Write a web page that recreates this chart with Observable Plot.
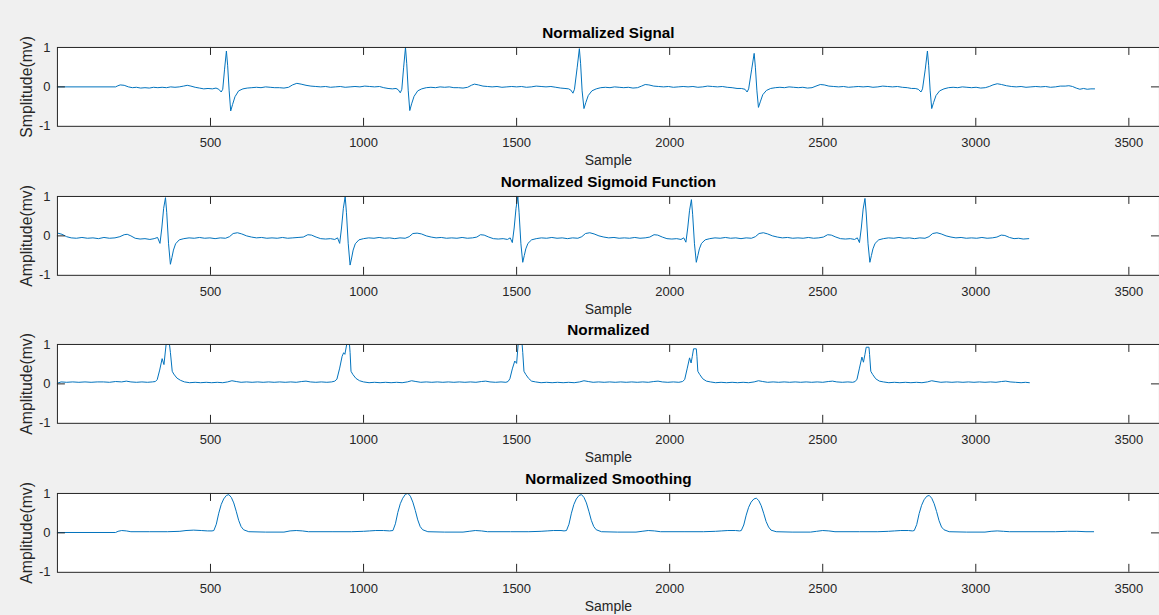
<!DOCTYPE html>
<html><head><meta charset="utf-8">
<script src="https://cdn.jsdelivr.net/npm/d3@7"></script>
<script src="https://cdn.jsdelivr.net/npm/@observablehq/plot@0.6"></script>
<style>
html,body{margin:0;padding:0;background:#f0f0f0;overflow:hidden;width:1159px;height:615px}
#chart{padding-top:25px}
#chart svg{display:block}
</style></head><body><div id="chart"></div>
<script>
const xTicks = [500, 1000, 1500, 2000, 2500, 3000, 3500];
const yTicks = [-1, 0, 1];
const panelTitles = ["Normalized Signal", "Normalized Sigmoid Function", "Normalized", "Normalized Smoothing"];
const yLabels = ["Smplitude(mv)", "Amplitude(mv)", "Amplitude(mv)", "Amplitude(mv)"];
const xLabel = "Sample";

// Panel 1: Normalized Signal  [sample, amplitude]
const signalPts = [[1,0],[190,0],[195,0.02],[205,0.05],[218,0.04],[232,0.0],[245,-0.02],[258,-0.01],[272,-0.03],[286,-0.02],[300,-0.03],[314,-0.01],[328,-0.02],[342,-0.01],[356,-0.02],[370,0.0],[384,-0.01],[398,0.0],[412,0.02],[424,0.04],[436,0.02],[450,-0.01],[464,-0.03],[478,-0.05],[492,-0.04],[506,-0.05],[518,-0.03],[527,-0.06],[535,-0.13],[540,-0.06],[546,0.45],[552,0.91],[556,0.55],[561,-0.1],[566,-0.61],[572,-0.45],[580,-0.25],[592,-0.1],[606,-0.05],[620,-0.03],[635,-0.02],[650,-0.01],[665,-0.02],[680,0.0],[695,-0.01],[710,-0.02],[725,-0.02],[740,-0.03],[755,-0.01],[768,0.05],[782,0.09],[796,0.07],[812,0.04],[828,0.02],[844,0.01],[860,0.0],[876,0.01],[892,-0.01],[908,0.0],[924,0.01],[940,-0.01],[956,0.0],[972,0.01],[988,0.0],[1004,0.02],[1020,0.01],[1036,0.0],[1052,0.01],[1066,-0.02],[1080,-0.04],[1094,-0.05],[1106,-0.04],[1113,-0.07],[1120,-0.15],[1125,-0.06],[1131,0.5],[1137,1.0],[1141,0.6],[1146,-0.1],[1151,-0.6],[1157,-0.43],[1165,-0.24],[1177,-0.1],[1190,-0.05],[1205,-0.02],[1220,-0.01],[1235,-0.02],[1250,0.0],[1265,-0.01],[1280,0.0],[1295,-0.02],[1310,-0.02],[1325,-0.03],[1340,-0.01],[1352,0.04],[1362,0.07],[1375,0.05],[1390,0.02],[1405,0.01],[1420,0.0],[1436,0.01],[1452,-0.01],[1468,0.0],[1484,0.01],[1500,0.0],[1516,0.01],[1532,-0.01],[1548,0.0],[1564,0.02],[1580,0.01],[1596,0.0],[1612,0.01],[1628,-0.01],[1644,-0.03],[1658,-0.04],[1670,-0.05],[1677,-0.08],[1684,-0.16],[1689,-0.06],[1698,0.5],[1705,0.97],[1709,0.6],[1714,-0.1],[1720,-0.55],[1726,-0.4],[1734,-0.22],[1746,-0.1],[1760,-0.05],[1775,-0.02],[1790,-0.01],[1805,-0.02],[1820,0.0],[1835,-0.01],[1850,-0.02],[1865,-0.01],[1880,-0.03],[1895,-0.02],[1908,0.02],[1920,0.06],[1932,0.05],[1948,0.02],[1964,0.01],[1980,0.0],[1996,0.01],[2012,-0.01],[2028,0.0],[2044,0.01],[2060,0.0],[2076,0.01],[2092,-0.01],[2108,0.0],[2124,0.02],[2140,0.01],[2156,0.0],[2172,0.01],[2188,-0.01],[2204,-0.02],[2220,-0.04],[2234,-0.04],[2246,-0.06],[2253,-0.13],[2258,-0.05],[2268,0.45],[2276,0.85],[2280,0.5],[2285,-0.1],[2290,-0.52],[2296,-0.38],[2304,-0.2],[2316,-0.09],[2330,-0.04],[2345,-0.02],[2360,-0.01],[2375,-0.02],[2390,0.0],[2405,-0.01],[2420,-0.02],[2435,-0.01],[2450,-0.03],[2465,-0.02],[2478,0.02],[2492,0.06],[2505,0.05],[2520,0.02],[2536,0.01],[2552,0.0],[2568,0.01],[2584,-0.01],[2600,0.0],[2616,0.01],[2632,0.0],[2648,0.01],[2664,-0.01],[2680,0.0],[2696,0.02],[2712,0.01],[2728,0.0],[2744,0.01],[2760,-0.01],[2776,-0.02],[2790,-0.04],[2802,-0.04],[2812,-0.06],[2821,-0.13],[2826,-0.05],[2835,0.45],[2842,0.91],[2846,0.55],[2851,-0.1],[2856,-0.55],[2862,-0.4],[2870,-0.22],[2882,-0.1],[2896,-0.05],[2911,-0.02],[2926,-0.01],[2941,-0.02],[2956,0.0],[2971,-0.01],[2986,-0.02],[3001,-0.01],[3016,-0.03],[3031,-0.02],[3044,0.01],[3056,0.05],[3070,0.08],[3084,0.06],[3100,0.03],[3116,0.01],[3132,0.0],[3148,0.01],[3164,-0.01],[3180,0.0],[3196,0.01],[3212,0.0],[3228,0.01],[3244,-0.01],[3260,0.0],[3276,0.02],[3292,0.02],[3304,0.03],[3316,0.01],[3328,-0.03],[3340,-0.06],[3352,-0.04],[3364,-0.06],[3376,-0.05],[3388,-0.05]];

// Panel 2: Normalized Sigmoid Function
const sigmoidPts = [[1,0.07],[15,0.04],[30,-0.02],[45,-0.05],[62,-0.06],[80,-0.04],[98,-0.06],[116,-0.05],[134,-0.07],[152,-0.04],[170,-0.06],[188,-0.05],[204,-0.02],[218,0.03],[228,0.04],[240,0.0],[254,-0.06],[270,-0.08],[286,-0.07],[302,-0.09],[316,-0.07],[327,-0.04],[335,-0.19],[341,0.2],[347,0.7],[353,0.97],[357,0.6],[363,-0.2],[369,-0.72],[374,-0.55],[379,-0.36],[386,-0.2],[398,-0.1],[413,-0.07],[430,-0.05],[447,-0.06],[464,-0.04],[481,-0.06],[498,-0.05],[515,-0.07],[532,-0.05],[549,-0.06],[562,-0.02],[574,0.06],[588,0.08],[602,0.05],[618,0.0],[634,-0.03],[650,-0.05],[667,-0.04],[684,-0.06],[701,-0.05],[718,-0.06],[735,-0.04],[752,-0.06],[769,-0.05],[786,-0.04],[803,-0.03],[818,0.03],[830,0.02],[845,-0.03],[860,-0.07],[876,-0.08],[892,-0.07],[906,-0.09],[915,-0.05],[922,-0.19],[928,0.2],[934,0.7],[940,1.0],[944,0.6],[950,-0.2],[956,-0.74],[961,-0.56],[966,-0.36],[973,-0.2],[985,-0.1],[1000,-0.07],[1017,-0.05],[1034,-0.06],[1051,-0.04],[1068,-0.06],[1085,-0.05],[1102,-0.07],[1119,-0.05],[1136,-0.06],[1149,-0.02],[1161,0.06],[1175,0.07],[1189,0.05],[1205,0.0],[1221,-0.03],[1237,-0.05],[1254,-0.04],[1271,-0.06],[1288,-0.05],[1305,-0.06],[1322,-0.04],[1339,-0.06],[1356,-0.05],[1370,-0.03],[1382,0.03],[1394,0.02],[1409,-0.03],[1424,-0.07],[1440,-0.08],[1456,-0.07],[1470,-0.09],[1479,-0.05],[1486,-0.17],[1492,0.2],[1498,0.7],[1504,1.0],[1508,0.6],[1514,-0.2],[1520,-0.67],[1525,-0.5],[1530,-0.33],[1537,-0.19],[1549,-0.1],[1564,-0.07],[1581,-0.05],[1598,-0.06],[1615,-0.04],[1632,-0.06],[1649,-0.05],[1666,-0.07],[1683,-0.05],[1700,-0.06],[1713,-0.02],[1725,0.06],[1739,0.08],[1753,0.05],[1769,0.0],[1785,-0.03],[1801,-0.05],[1818,-0.04],[1835,-0.06],[1852,-0.05],[1869,-0.06],[1886,-0.04],[1903,-0.06],[1920,-0.05],[1935,-0.03],[1949,0.03],[1961,0.02],[1976,-0.03],[1991,-0.07],[2007,-0.08],[2023,-0.07],[2037,-0.09],[2046,-0.05],[2053,-0.16],[2059,0.2],[2065,0.65],[2071,0.92],[2075,0.55],[2081,-0.2],[2087,-0.67],[2092,-0.5],[2097,-0.33],[2104,-0.19],[2116,-0.1],[2131,-0.07],[2148,-0.05],[2165,-0.06],[2182,-0.04],[2199,-0.06],[2216,-0.05],[2233,-0.07],[2250,-0.05],[2267,-0.06],[2280,-0.02],[2292,0.06],[2306,0.08],[2320,0.05],[2336,0.0],[2352,-0.03],[2368,-0.05],[2385,-0.04],[2402,-0.06],[2419,-0.05],[2436,-0.06],[2453,-0.04],[2470,-0.06],[2487,-0.05],[2502,-0.03],[2516,0.03],[2528,0.02],[2543,-0.03],[2558,-0.07],[2574,-0.08],[2590,-0.07],[2604,-0.09],[2613,-0.05],[2620,-0.17],[2626,0.2],[2632,0.68],[2638,0.95],[2642,0.58],[2648,-0.2],[2654,-0.67],[2659,-0.5],[2664,-0.33],[2671,-0.19],[2683,-0.1],[2698,-0.07],[2715,-0.05],[2732,-0.06],[2749,-0.04],[2766,-0.06],[2783,-0.05],[2800,-0.07],[2817,-0.05],[2834,-0.06],[2847,-0.02],[2859,0.06],[2873,0.08],[2887,0.05],[2903,0.0],[2919,-0.03],[2935,-0.05],[2952,-0.04],[2969,-0.06],[2986,-0.05],[3003,-0.06],[3020,-0.04],[3037,-0.06],[3054,-0.05],[3069,-0.03],[3083,0.02],[3095,0.01],[3110,-0.04],[3125,-0.07],[3140,-0.06],[3155,-0.08],[3173,-0.07]];

// Panel 3: Normalized
const normalizedPts = [[1,0.02],[12,0.05],[30,0.04],[50,0.05],[70,0.04],[90,0.05],[110,0.04],[130,0.05],[150,0.05],[170,0.04],[190,0.06],[210,0.05],[225,0.07],[240,0.05],[258,0.04],[276,0.05],[294,0.04],[310,0.05],[320,0.06],[326,0.11],[334,0.35],[342,0.64],[348,0.49],[355,1.0],[366,1.0],[369,0.8],[375,0.32],[380,0.25],[390,0.15],[402,0.09],[415,0.05],[432,0.03],[450,0.04],[468,0.03],[486,0.04],[504,0.03],[522,0.04],[540,0.03],[556,0.05],[570,0.08],[584,0.06],[600,0.04],[618,0.05],[636,0.04],[654,0.05],[672,0.04],[690,0.05],[708,0.04],[726,0.05],[744,0.04],[762,0.05],[780,0.04],[798,0.06],[812,0.07],[826,0.05],[844,0.04],[862,0.05],[880,0.04],[896,0.05],[906,0.07],[913,0.12],[922,0.4],[930,0.7],[935,0.79],[939,0.75],[945,1.0],[954,1.0],[956,0.8],[959,0.32],[965,0.24],[975,0.14],[987,0.08],[1000,0.05],[1018,0.03],[1036,0.04],[1054,0.03],[1072,0.04],[1090,0.03],[1108,0.04],[1126,0.03],[1143,0.05],[1157,0.08],[1171,0.06],[1187,0.04],[1205,0.05],[1223,0.04],[1241,0.05],[1259,0.04],[1277,0.05],[1295,0.04],[1313,0.05],[1331,0.04],[1349,0.05],[1367,0.04],[1385,0.06],[1399,0.07],[1413,0.05],[1431,0.04],[1449,0.05],[1465,0.04],[1472,0.06],[1478,0.13],[1486,0.38],[1494,0.58],[1500,0.52],[1505,1.0],[1518,1.0],[1520,0.8],[1524,0.32],[1530,0.24],[1539,0.14],[1549,0.07],[1562,0.05],[1580,0.03],[1598,0.04],[1616,0.03],[1634,0.04],[1652,0.03],[1670,0.04],[1688,0.03],[1706,0.05],[1720,0.08],[1734,0.06],[1750,0.04],[1768,0.05],[1786,0.04],[1804,0.05],[1822,0.04],[1840,0.05],[1858,0.04],[1876,0.05],[1894,0.04],[1912,0.05],[1930,0.04],[1948,0.06],[1962,0.07],[1976,0.05],[1994,0.04],[2012,0.05],[2030,0.04],[2042,0.06],[2049,0.11],[2057,0.38],[2065,0.66],[2070,0.53],[2074,0.7],[2078,0.89],[2087,0.89],[2089,0.7],[2092,0.32],[2098,0.24],[2108,0.13],[2120,0.07],[2133,0.05],[2150,0.03],[2168,0.04],[2186,0.03],[2204,0.04],[2222,0.03],[2240,0.04],[2258,0.03],[2276,0.05],[2290,0.08],[2304,0.06],[2320,0.04],[2338,0.05],[2356,0.04],[2374,0.05],[2392,0.04],[2410,0.05],[2428,0.04],[2446,0.05],[2464,0.04],[2482,0.05],[2500,0.04],[2518,0.06],[2532,0.07],[2546,0.05],[2564,0.04],[2582,0.05],[2598,0.04],[2606,0.06],[2612,0.12],[2620,0.4],[2628,0.68],[2633,0.55],[2638,0.75],[2642,0.93],[2651,0.93],[2653,0.75],[2657,0.32],[2663,0.24],[2673,0.13],[2685,0.07],[2698,0.05],[2716,0.03],[2734,0.04],[2752,0.03],[2770,0.04],[2788,0.03],[2806,0.04],[2824,0.03],[2842,0.05],[2856,0.08],[2870,0.06],[2886,0.04],[2904,0.05],[2922,0.04],[2940,0.05],[2958,0.04],[2976,0.05],[2994,0.04],[3012,0.05],[3030,0.04],[3048,0.05],[3066,0.04],[3084,0.06],[3098,0.07],[3112,0.05],[3130,0.04],[3148,0.03],[3162,0.04],[3175,0.03]];

// Panel 4: Normalized Smoothing
const smoothPts = [[1,0.01],[190,0.01],[198,0.04],[210,0.06],[225,0.05],[240,0.03],[300,0.03],[360,0.03],[400,0.04],[420,0.06],[445,0.07],[470,0.06],[490,0.05],[505,0.05],[511,0.06],[519,0.22],[527,0.5],[535,0.72],[543,0.86],[552,0.95],[560,0.97],[568,0.9],[576,0.76],[584,0.55],[592,0.32],[600,0.16],[608,0.08],[625,0.03],[680,0.02],[740,0.02],[760,0.05],[780,0.06],[800,0.05],[820,0.03],[900,0.03],[960,0.03],[1000,0.04],[1020,0.05],[1040,0.06],[1065,0.06],[1085,0.05],[1096,0.06],[1104,0.23],[1112,0.52],[1120,0.74],[1128,0.88],[1137,0.98],[1145,1.0],[1153,0.93],[1161,0.78],[1169,0.57],[1177,0.33],[1185,0.16],[1193,0.08],[1210,0.03],[1265,0.02],[1325,0.02],[1345,0.04],[1365,0.06],[1385,0.05],[1405,0.03],[1480,0.03],[1540,0.03],[1580,0.04],[1600,0.05],[1620,0.06],[1645,0.06],[1655,0.05],[1663,0.06],[1671,0.22],[1679,0.5],[1687,0.72],[1695,0.86],[1704,0.95],[1712,0.97],[1720,0.9],[1728,0.76],[1736,0.55],[1744,0.32],[1752,0.16],[1760,0.08],[1777,0.03],[1830,0.02],[1890,0.02],[1910,0.04],[1930,0.06],[1950,0.05],[1970,0.03],[2050,0.03],[2110,0.03],[2150,0.04],[2170,0.05],[2190,0.06],[2215,0.06],[2228,0.05],[2234,0.06],[2242,0.2],[2250,0.45],[2258,0.65],[2266,0.78],[2275,0.86],[2283,0.88],[2291,0.82],[2299,0.69],[2307,0.5],[2315,0.29],[2323,0.15],[2331,0.07],[2348,0.03],[2400,0.02],[2460,0.02],[2480,0.04],[2500,0.06],[2520,0.05],[2540,0.03],[2620,0.03],[2680,0.03],[2715,0.04],[2735,0.05],[2755,0.06],[2780,0.06],[2793,0.05],[2799,0.06],[2807,0.21],[2815,0.49],[2823,0.7],[2831,0.84],[2840,0.93],[2848,0.95],[2856,0.88],[2864,0.74],[2872,0.54],[2880,0.31],[2888,0.15],[2896,0.08],[2913,0.03],[2970,0.02],[3030,0.02],[3050,0.04],[3070,0.05],[3090,0.04],[3110,0.03],[3200,0.03],[3260,0.03],[3300,0.04],[3330,0.04],[3360,0.03],[3385,0.03]];

const series = [signalPts, sigmoidPts, normalizedPts, smoothPts];

const FONT = '"Liberation Sans", Arial, Helvetica, sans-serif';
const W = 1161, H = 149, ML = 57, MT = 22, MB = 48;
const boxW = W - ML, boxH = H - MT - MB, TICK = 8;
const AX = "#262626";

function panel(pts, title, ylabel) {
  const data = pts.map(([x, y]) => ({x, y}));
  return Plot.plot({
    width: W, height: H,
    marginLeft: ML, marginRight: 0, marginTop: MT, marginBottom: MB,
    style: {background: "transparent", fontFamily: FONT, fontSize: "13px", color: AX, overflow: "visible"},
    x: {domain: [0, 3600], ticks: xTicks, tickSize: 0, tickPadding: 11, tickFormat: d => String(d), label: null},
    y: {domain: [-1, 1], ticks: yTicks, tickSize: 0, tickPadding: 7, tickFormat: d => String(d), label: null},
    marks: [
      Plot.frame({fill: "white", stroke: "none"}),
      Plot.line(data, {x: "x", y: "y", stroke: "#0072BD", strokeWidth: 1, clip: true}),
      Plot.tickX(xTicks, {x: d => d, insetTop: boxH - TICK, stroke: AX}),
      Plot.tickX(xTicks, {x: d => d, insetBottom: boxH - TICK, stroke: AX}),
      Plot.tickY([0], {y: d => d, insetRight: boxW - TICK, stroke: AX}),
      Plot.tickY([0], {y: d => d, insetLeft: boxW - TICK, stroke: AX}),
      Plot.frame({stroke: AX}),
      Plot.text([title], {text: d => d, frameAnchor: "top", lineAnchor: "middle", dy: -14, fontWeight: "bold", fontSize: 15.3, fill: "#000"}),
      Plot.text([xLabel], {text: d => d, frameAnchor: "bottom", lineAnchor: "middle", dy: 34, fontSize: 14, fill: AX}),
      Plot.text([ylabel], {text: d => d, frameAnchor: "left", textAnchor: "middle", lineAnchor: "middle", dx: -31, rotate: -90, fontSize: 15.8, fill: AX})
    ]
  });
}

const root = document.getElementById("chart");
series.forEach((pts, i) => root.appendChild(panel(pts, panelTitles[i], yLabels[i])));
</script></body></html>
